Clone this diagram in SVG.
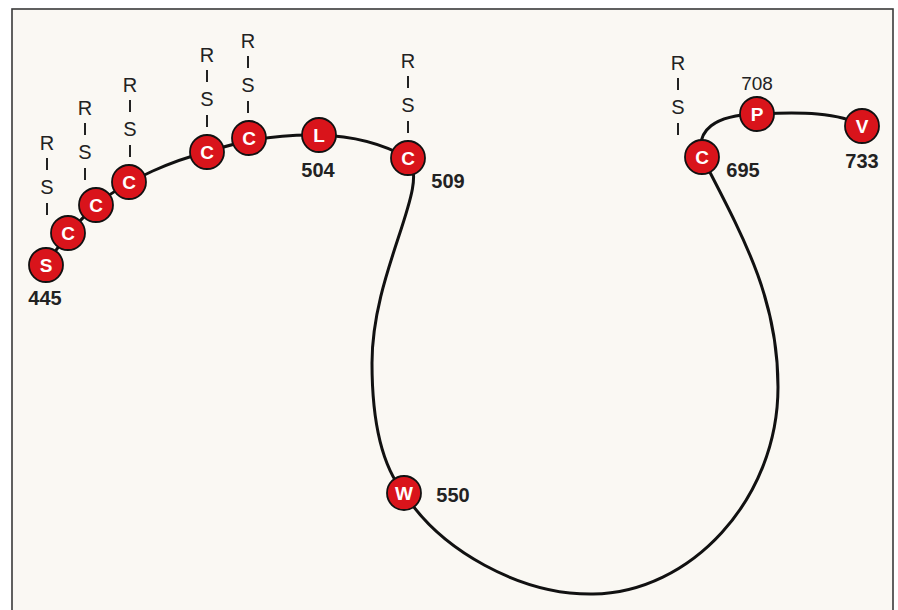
<svg xmlns="http://www.w3.org/2000/svg" width="898" height="610" viewBox="0 0 898 610">
<defs>
<style>
.bg{fill:#faf8f3;stroke:#3a3a3a;stroke-width:1.6}
.chain{fill:none;stroke:#111;stroke-width:3;stroke-linecap:round}
.res circle{fill:#d9141b;stroke:#111;stroke-width:1.8}
.res text{fill:#fff;font-family:"Liberation Sans",Arial,sans-serif;font-weight:bold;font-size:19px;text-anchor:middle}
.num{fill:#222;font-family:"Liberation Sans",Arial,sans-serif;font-weight:bold;font-size:20px;text-anchor:middle}
.num2{fill:#222;font-family:"Liberation Sans",Arial,sans-serif;font-size:19px;text-anchor:middle}
.rs text{fill:#222;font-family:"Liberation Sans",Arial,sans-serif;font-size:20px;text-anchor:middle}
.rs line{stroke:#222;stroke-width:2}
</style>
<g id="rsStack" class="rs">
<text x="0" y="0">R</text>
<line x1="0" y1="8" x2="0" y2="20"/>
<text x="0" y="44">S</text>
<line x1="0" y1="53" x2="0" y2="65"/>
</g>
</defs>
<rect x="12" y="9" width="881" height="620" class="bg"/>
<g id="connectors">
<path class="chain" d="M46,265 C58,246 78,220 100,202 C130,178 175,160 207,152 C240,141 280,134 319,135 C355,136 385,145 408,158 C432,185 372,270 372,363 C372,430 385,470 404,493 C440,550 520,595 593,594 C690,593 778,500 778,387 C778,300 745,240 702,157 C695,130 715,115 757,114 C800,112 840,112 862,126"/>
</g>
<g id="side-chains">
<use href="#rsStack" x="47" y="150"/>
<use href="#rsStack" x="85" y="115"/>
<use href="#rsStack" x="130" y="92"/>
<use href="#rsStack" x="207" y="62"/>
<use href="#rsStack" x="248" y="48"/>
<use href="#rsStack" x="408" y="68"/>
<use href="#rsStack" x="678" y="70"/>
</g>
<g id="S445" class="res"><circle cx="46" cy="265" r="17"/><text x="46" y="272">S</text></g>
<g id="C1" class="res"><circle cx="68" cy="233" r="17"/><text x="68" y="240">C</text></g>
<g id="C2" class="res"><circle cx="96" cy="205" r="17"/><text x="96" y="212">C</text></g>
<g id="C3" class="res"><circle cx="129" cy="182" r="17"/><text x="129" y="189">C</text></g>
<g id="C4" class="res"><circle cx="207" cy="152" r="17"/><text x="207" y="159">C</text></g>
<g id="C5" class="res"><circle cx="249" cy="138" r="17"/><text x="249" y="145">C</text></g>
<g id="L504" class="res"><circle cx="319" cy="135" r="17"/><text x="319" y="142">L</text></g>
<g id="C509" class="res"><circle cx="408" cy="158" r="17"/><text x="408" y="165">C</text></g>
<g id="W550" class="res"><circle cx="404" cy="493" r="17"/><text x="404" y="500">W</text></g>
<g id="C695" class="res"><circle cx="702" cy="157" r="17"/><text x="702" y="164">C</text></g>
<g id="P708" class="res"><circle cx="757" cy="114" r="17"/><text x="757" y="121">P</text></g>
<g id="V733" class="res"><circle cx="862" cy="126" r="17"/><text x="862" y="133">V</text></g>
<g id="labels">
<text class="num" x="45" y="305">445</text>
<text class="num" x="318" y="177">504</text>
<text class="num" x="448" y="188">509</text>
<text class="num" x="453" y="502">550</text>
<text class="num" x="743" y="177">695</text>
<text class="num2" x="757" y="90">708</text>
<text class="num" x="862" y="168">733</text>
</g>
</svg>
